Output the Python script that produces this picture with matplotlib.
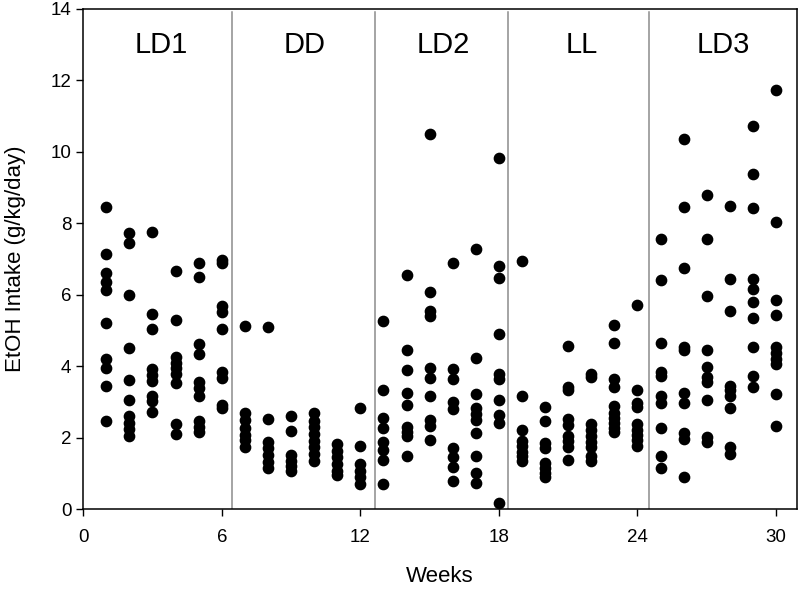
import matplotlib
matplotlib.use("Agg")
import matplotlib.pyplot as plt

plt.rcParams['font.family'] = ['Liberation Sans', 'DejaVu Sans']

# ethanol intake per week (g/kg/day), one list per week
weeks = list(range(1, 31))
intake = [
    [8.45, 7.15, 6.62, 6.35, 6.12, 5.2, 4.2, 3.95, 3.44, 2.46],          # 1
    [7.72, 7.46, 6.0, 4.5, 3.62, 3.06, 2.61, 2.42, 2.24, 2.05],          # 2
    [7.75, 5.47, 5.05, 3.92, 3.75, 3.59, 3.17, 3.03, 2.72],              # 3
    [6.66, 5.28, 4.27, 4.09, 3.95, 3.79, 3.53, 2.38, 2.1],               # 4
    [6.89, 6.49, 4.62, 4.34, 3.57, 3.39, 3.17, 2.47, 2.31, 2.17],        # 5
    [6.98, 6.89, 5.69, 5.52, 5.04, 3.85, 3.67, 2.92, 2.82],              # 6
    [5.13, 2.68, 2.5, 2.26, 2.08, 1.94, 1.75],                           # 7
    [5.1, 2.52, 1.89, 1.7, 1.51, 1.33, 1.14],                            # 8
    [2.61, 2.19, 1.51, 1.36, 1.21, 1.08],                                # 9
    [2.68, 2.48, 2.29, 2.1, 1.92, 1.73, 1.54, 1.36],                     # 10
    [1.82, 1.64, 1.45, 1.26, 1.08, 0.95],                                # 11
    [2.84, 1.77, 1.26, 1.08, 0.89, 0.7],                                 # 12
    [5.27, 3.32, 2.54, 2.26, 1.89, 1.65, 1.37, 0.7],                     # 13
    [6.54, 4.46, 3.88, 3.26, 2.92, 2.31, 2.17, 2.05, 1.49],              # 14
    [10.49, 6.07, 5.54, 5.41, 3.96, 3.68, 3.17, 2.5, 2.33, 1.94],        # 15
    [6.89, 3.92, 3.64, 2.99, 2.8, 1.7, 1.45, 1.19, 0.79],                # 16
    [7.28, 4.24, 3.23, 2.82, 2.66, 2.5, 2.14, 1.49, 1.0, 0.72],          # 17
    [9.84, 6.8, 6.47, 4.91, 3.79, 3.64, 3.06, 2.64, 2.42, 0.18],         # 18
    [6.94, 3.17, 2.22, 1.92, 1.77, 1.61, 1.49, 1.36],                    # 19
    [2.87, 2.48, 1.84, 1.7, 1.3, 1.14, 1.0, 0.89],                       # 20
    [4.57, 3.43, 3.32, 2.52, 2.36, 2.05, 1.92, 1.75, 1.37],              # 21
    [3.79, 3.69, 2.38, 2.22, 2.05, 1.89, 1.73, 1.49, 1.36],              # 22
    [5.15, 4.65, 3.64, 3.43, 2.89, 2.68, 2.54, 2.4, 2.26, 2.17],         # 23
    [5.72, 3.34, 2.96, 2.87, 2.38, 2.22, 2.08, 1.94, 1.77],              # 24
    [7.57, 6.42, 4.65, 3.85, 3.73, 3.17, 2.98, 2.26, 1.49, 1.16],        # 25
    [10.36, 8.45, 6.75, 4.54, 4.44, 3.26, 2.98, 2.12, 1.96, 0.89],       # 26
    [8.8, 7.57, 5.96, 4.46, 3.99, 3.69, 3.57, 3.06, 2.03, 1.89],         # 27
    [8.48, 6.44, 5.54, 3.45, 3.32, 3.17, 2.84, 1.75, 1.54],              # 28
    [10.72, 9.39, 8.42, 6.44, 6.17, 5.8, 5.35, 4.55, 3.73, 3.43],        # 29
    [11.73, 8.03, 5.84, 5.44, 4.55, 4.38, 4.2, 4.07, 3.22, 2.33],        # 30
]

# light phases and where they change
phases = ['LD1', 'DD', 'LD2', 'LL', 'LD3']
phase_centers = [3.4, 9.6, 15.6, 21.6, 27.7]
boundaries = [6.43, 12.63, 18.39, 24.5]

xs = []
ys = []
for w, vals in zip(weeks, intake):
    for v in vals:
        xs.append(w)
        ys.append(v)

fig = plt.figure(figsize=(8, 5.92), dpi=100)
ax = fig.add_axes([0.104, 0.140, 0.892, 0.845])

ax.scatter(xs, ys, s=55, color='black', zorder=3, clip_on=False)

for b in boundaries:
    ax.plot([b, b], [0, 13.9], color='#8c8c8c', lw=1.1, zorder=1)

for name, cx in zip(phases, phase_centers):
    ax.text(cx, 13.0, name, ha='center', va='center', fontsize=21)

ax.set_xlim(0, 30.9)
ax.set_ylim(0, 14)
ax.set_xticks([0, 6, 12, 18, 24, 30])
ax.set_yticks(range(0, 15, 2))
ax.tick_params(direction='out', length=5, width=1, labelsize=13.5, top=False, right=False)
ax.tick_params(axis='x', pad=9)
for sp in ax.spines.values():
    sp.set_linewidth(1.1)

ax.set_xlabel('Weeks', fontsize=16, labelpad=15)
ax.set_ylabel('EtOH Intake (g/kg/day)', fontsize=16, labelpad=18)

plt.savefig('out.png', dpi=100)
